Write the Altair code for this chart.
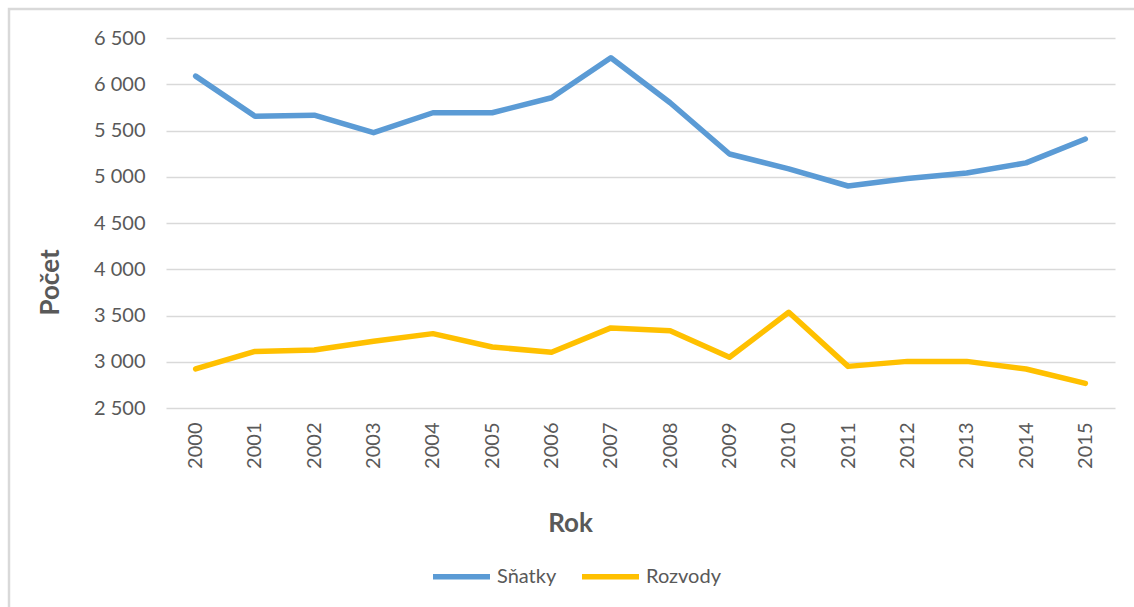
import altair as alt
import pandas as pd

# Annual counts of marriages and divorces
years = [str(y) for y in range(2000, 2016)]
snatky = [6088, 5655, 5666, 5476, 5692, 5692, 5854, 6287, 5800, 5246, 5085, 4900, 4980, 5040, 5150, 5408]
rozvody = [2922, 3112, 3128, 3221, 3304, 3160, 3102, 3366, 3336, 3048, 3535, 2950, 3004, 3004, 2922, 2766]
series = ["Sňatky", "Rozvody"]
colors = ["#5B9BD5", "#FFC000"]
y_ticks = list(range(2500, 7000, 500))

rows = []
for i, yr in enumerate(years):
    rows.append({"Rok": yr, "Řada": series[0], "Počet": snatky[i]})
    rows.append({"Rok": yr, "Řada": series[1], "Počet": rozvody[i]})
df = pd.DataFrame(rows)

FONT = "Lato"
GREY = "#595959"

lines = alt.Chart(df).mark_line(strokeWidth=5.5, strokeCap="round", strokeJoin="round").encode(
    x=alt.X(
        "Rok:N",
        sort=years,
        scale=alt.Scale(type="point", padding=0.5),
        axis=alt.Axis(
            title="Rok",
            labelAngle=270,
            labelFontSize=20,
            labelColor=GREY,
            labelFont=FONT,
            labelPadding=14,
            ticks=False,
            domain=False,
            grid=False,
            titleFont=FONT,
            titleFontSize=26,
            titleFontWeight="bold",
            titleColor=GREY,
            titleX=404,
            titleY=123,
            titleBaseline="alphabetic",
            titleAlign="center",
        ),
    ),
    y=alt.Y(
        "Počet:Q",
        scale=alt.Scale(domain=[2500, 6500], nice=False, zero=False),
        axis=alt.Axis(
            title="Počet",
            values=y_ticks,
            labelExpr="replace(format(datum.value, ','), ',', ' ')",
            labelFontSize=20,
            labelColor=GREY,
            labelFont=FONT,
            labelPadding=21,
            ticks=False,
            domain=False,
            grid=True,
            gridColor="#D9D9D9",
            gridWidth=1.5,
            titleFont=FONT,
            titleFontSize=26,
            titleFontWeight="bold",
            titleColor=GREY,
            titleAngle=270,
            titleX=-108,
            titleY=244,
            titleBaseline="alphabetic",
            titleAlign="center",
        ),
    ),
    color=alt.Color(
        "Řada:N",
        scale=alt.Scale(domain=series, range=colors),
        legend=alt.Legend(
            title=None,
            orient="none",
            direction="horizontal",
            legendX=264,
            legendY=507,
            symbolType="stroke",
            symbolSize=3249,
            symbolStrokeWidth=5.5,
            labelFont=FONT,
            labelFontSize=20,
            labelColor=GREY,
            labelOffset=4,
            columnPadding=14,
        ),
    ),
)

# outer chart frame
frame = alt.Chart(pd.DataFrame({"a": [0]})).mark_rect(
    fill=None, stroke="#D9D9D9", strokeWidth=2.5
).encode(
    x=alt.value(-157), x2=alt.value(1200), y=alt.value(-29), y2=alt.value(800)
)

chart = alt.layer(frame, lines).properties(
    width=949,
    height=370,
    padding={"left": 166, "top": 38, "right": 19, "bottom": 199},
    autosize=alt.AutoSizeParams(type="none"),
    background="white",
).configure_view(stroke=None)

chart.save("out.html", embed_options={"renderer": "svg", "actions": False})
